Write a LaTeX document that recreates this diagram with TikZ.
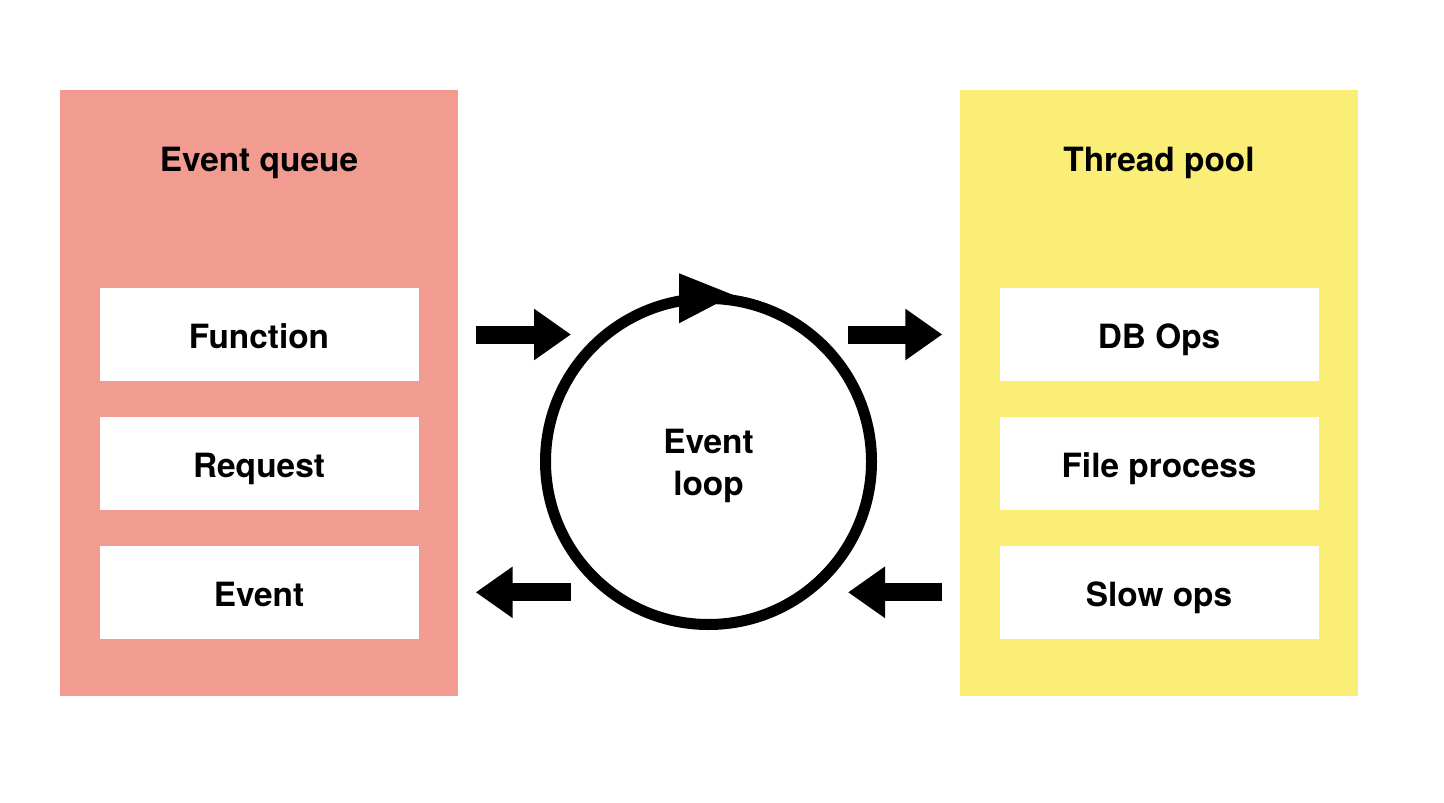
\documentclass[tikz,border=0pt]{standalone}
\usepackage{fontspec}
\setmainfont{TeX Gyre Heros}
\usepackage{tikz}
\usetikzlibrary{arrows.meta, positioning, calc}
\definecolor{queuered}{HTML}{F19B91}
\definecolor{poolyellow}{HTML}{FAEE76}

\begin{document}
\begin{tikzpicture}[
  panel/.style={minimum width=3.98cm, minimum height=6.06cm, inner sep=0},
  title/.style={font=\fontsize{9.5}{12}\selectfont\bfseries, inner sep=0},
  item/.style={title, fill=white, minimum width=3.19cm, minimum height=0.93cm,
               text height=0.28cm, text depth=0pt},
  blockarrow/.style={line width=0.18cm, -{Triangle[length=0.37cm, width=0.49cm]}}
]
\useasboundingbox (0, 0) rectangle (14.44, 8.02);
\node[panel, fill=queuered] (queue) at (2.59, 4.09) {};
\node[panel, fill=poolyellow] (pool) at (11.59, 4.09) {};
\node[title, anchor=base] (qtitle) at ([yshift=-0.82cm]queue.north) {Event queue};
\node[title, anchor=base] (ptitle) at ([yshift=-0.82cm]pool.north) {Thread pool};
\node[item, anchor=north] (fn) at ([yshift=-1.98cm]queue.north) {Function};
\node[item, below=0.345cm of fn] (req) {Request};
\node[item, below=0.345cm of req] (ev) {Event};
\node[item, anchor=north] (db) at ([yshift=-1.98cm]pool.north) {DB Ops};
\node[item, below=0.345cm of db] (file) {File process};
\node[item, below=0.345cm of file] (slow) {Slow ops};
\node[title, draw, circle, line width=0.11cm, minimum size=3.26cm, align=center,
      text height=0.75cm, text depth=0.07cm] (loop) at (7.085, 3.405) {Event\\loop};
\fill[shift={(loop.center)}] (-0.295, 1.882) -- (0.248, 1.665) -- (-0.295, 1.382) -- cycle;
\draw[blockarrow] ($(queue.east |- fn)+(0.17,0)$) -- ($(loop.west |- fn)+(0.31,0)$);
\draw[blockarrow] ($(loop.east |- db)+(-0.29,0)$) -- ($(pool.west |- db)+(-0.17,0)$);
\draw[blockarrow] ($(loop.west |- ev)+(0.31,0)$) -- ($(queue.east |- ev)+(0.17,0)$);
\draw[blockarrow] ($(pool.west |- slow)+(-0.17,0)$) -- ($(loop.east |- slow)+(-0.29,0)$);
\end{tikzpicture}
\end{document}
